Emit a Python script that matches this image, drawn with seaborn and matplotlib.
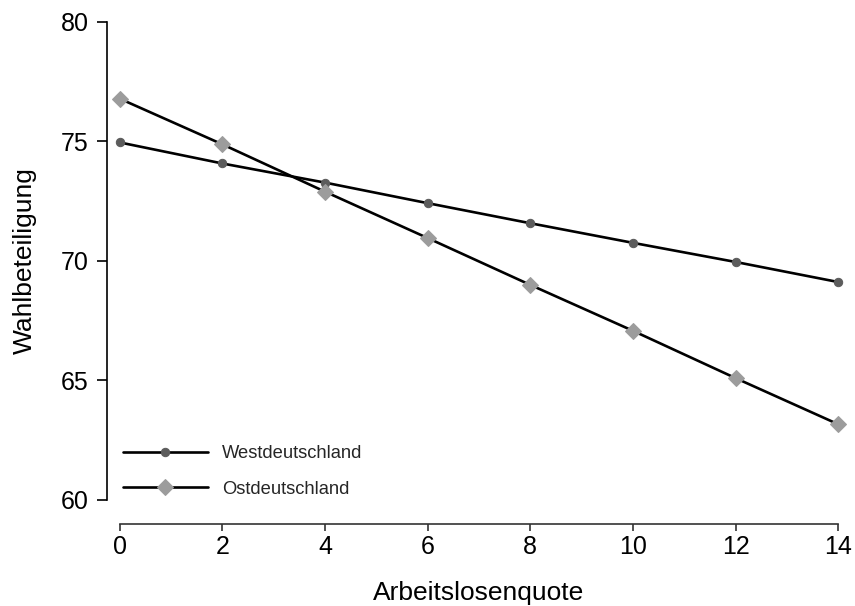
import matplotlib
matplotlib.use("Agg")
import matplotlib.pyplot as plt
import seaborn as sns
import pandas as pd

# Predicted turnout by unemployment rate, West vs. East Germany
quote = [0, 2, 4, 6, 8, 10, 12, 14]
west = [74.96, 74.08, 73.28, 72.42, 71.58, 70.76, 69.96, 69.12]
ost = [76.79, 74.88, 72.90, 70.96, 69.00, 67.08, 65.10, 63.17]
yticks = [60, 65, 70, 75, 80]

sns.set_theme(style="white")
plt.rcParams["font.family"] = ["Liberation Sans", "DejaVu Sans"]

df_w = pd.DataFrame({"Arbeitslosenquote": quote, "Wahlbeteiligung": west})
df_o = pd.DataFrame({"Arbeitslosenquote": quote, "Wahlbeteiligung": ost})

fig = plt.figure(figsize=(8.55, 6.06), dpi=100)
ax = fig.add_axes([107 / 855, 106 / 606, 744 / 855, 478 / 606])

sns.lineplot(data=df_w, x="Arbeitslosenquote", y="Wahlbeteiligung", ax=ax,
             color="black", linewidth=1.9, marker="o", markersize=6,
             markerfacecolor="#5c5c5c", markeredgecolor="#5c5c5c",
             label="Westdeutschland", clip_on=False)
sns.lineplot(data=df_o, x="Arbeitslosenquote", y="Wahlbeteiligung", ax=ax,
             color="black", linewidth=1.9, marker="D", markersize=8.5,
             markerfacecolor="#9c9c9c", markeredgecolor="#9c9c9c",
             label="Ostdeutschland", clip_on=False)

ax.set_xlim(-0.25, 14.25)
ax.set_ylim(60, 80)
ax.set_xticks(quote)
ax.set_yticks(yticks)

for s in ("top", "right"):
    ax.spines[s].set_visible(False)
ax.spines["left"].set_bounds(60, 80)
ax.spines["bottom"].set_bounds(0, 14)
ax.spines["bottom"].set_position(("outward", 17))
ax.spines["left"].set_color("black")
ax.spines["bottom"].set_color("#333333")
for s in ("left", "bottom"):
    ax.spines[s].set_linewidth(1.2)

ax.tick_params(axis="both", which="major", direction="out", bottom=True,
               left=True, width=1.2, labelsize=18, labelcolor="black")
ax.tick_params(axis="y", length=7, pad=6, color="black")
ax.tick_params(axis="x", length=5, pad=3, color="#333333")

ax.set_xlabel("Arbeitslosenquote", fontsize=19, color="black", labelpad=16)
ax.set_ylabel("Wahlbeteiligung", fontsize=19, color="black", labelpad=17)

ax.legend(loc="lower left", bbox_to_anchor=(0.004, -0.022), frameon=False,
          fontsize=13.2, handlelength=4.65, handletextpad=0.75,
          labelspacing=1.0, borderaxespad=0.3)

fig.savefig("out.png", dpi=100)
